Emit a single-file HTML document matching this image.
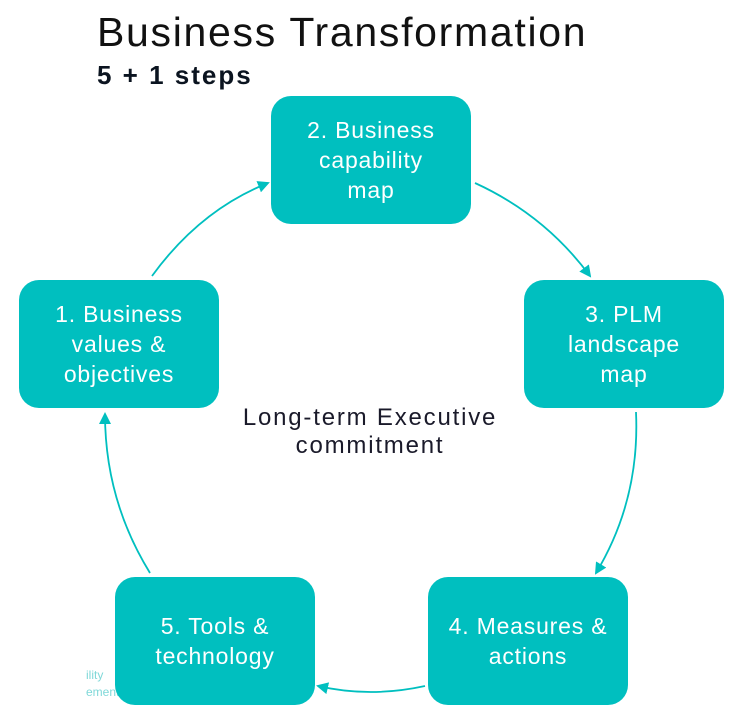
<!DOCTYPE html>
<html><head><meta charset="utf-8"><style>
html,body{margin:0;padding:0;background:#fff;}
body{width:739px;height:725px;position:relative;overflow:hidden;font-family:"Liberation Sans",sans-serif;}
.t{position:absolute;left:97px;top:9px;font-size:41px;font-weight:300;color:#111;letter-spacing:1.7px;white-space:nowrap;}
.s{position:absolute;left:97px;top:60px;font-size:26px;font-weight:bold;color:#0b1420;letter-spacing:2px;white-space:nowrap;}
.b{position:absolute;width:200px;height:128px;background:#00BFBF;border-radius:20px;color:#fff;font-size:23px;letter-spacing:0.8px;line-height:30px;display:flex;align-items:center;justify-content:center;text-align:center;}
.c{position:absolute;left:170px;top:404px;width:400px;text-align:center;font-size:24px;letter-spacing:1.8px;line-height:28px;color:#1a1a2a;}
.f{position:absolute;left:86px;font-size:12px;color:#7fd8d8;}
</style></head><body>
<div class="t">Business Transformation</div>
<div class="s">5 + 1 steps</div>
<svg width="739" height="725" style="position:absolute;left:0;top:0">
<defs><marker id="a" markerWidth="12" markerHeight="12" refX="10" refY="6" orient="auto" markerUnits="userSpaceOnUse"><path d="M0,0 L12,6 L0,12 z" fill="#00BFBF"/></marker></defs>
<g fill="none" stroke="#00BFBF" stroke-width="1.8" marker-end="url(#a)">
<path d="M152,276 Q200,210 268,183"/>
<path d="M475,183 Q545,215 590,276"/>
<path d="M636,412 Q640,500 596,573"/>
<path d="M425,686 Q370,698 318,686"/>
<path d="M150,573 Q105,500 105,414"/>
</g></svg>
<div class="f" style="top:668px">ility</div>
<div class="f" style="top:685px">ement</div>
<div class="b" style="left:271px;top:96px">2. Business<br>capability<br>map</div>
<div class="b" style="left:19px;top:280px">1. Business<br>values &amp;<br>objectives</div>
<div class="b" style="left:524px;top:280px">3. PLM<br>landscape<br>map</div>
<div class="b" style="left:428px;top:577px">4. Measures &amp;<br>actions</div>
<div class="b" style="left:115px;top:577px">5. Tools &amp;<br>technology</div>
<div class="c">Long-term Executive<br>commitment</div>
</body></html>
